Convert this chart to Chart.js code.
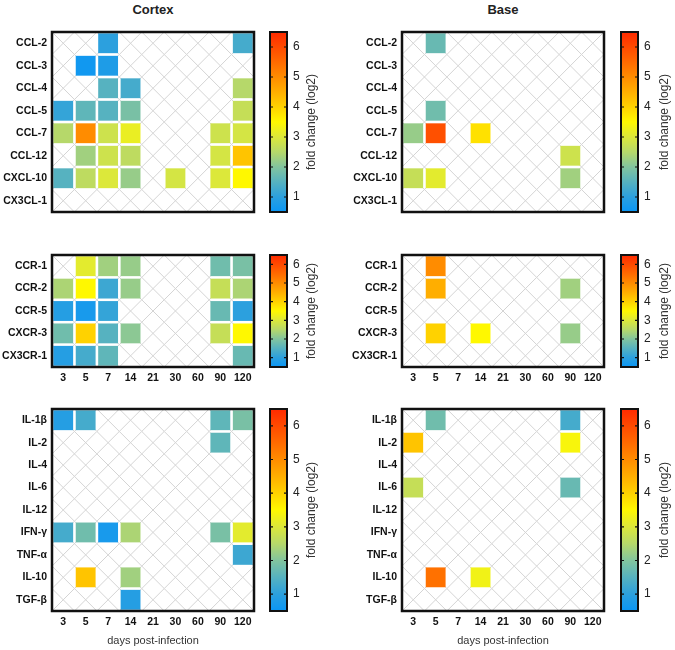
<!DOCTYPE html>
<html>
<head>
<meta charset="utf-8">
<script src="https://cdn.jsdelivr.net/npm/chart.js@4.4.1/dist/chart.umd.min.js"></script>
<style>
  body { margin: 0; background: #fff; width: 675px; height: 650px; position: relative; overflow: hidden; font-family: "Liberation Sans", Arial, sans-serif; }
  canvas { position: absolute; }
  .title { position: absolute; top: 2px; width: 202px; text-align: center; font-weight: bold; font-size: 13px; color: #222; }
</style>
</head>
<body>
<div class="title" style="left:52px">Cortex</div>
<div class="title" style="left:402px">Base</div>
<canvas id="cortex1"></canvas><canvas id="cortexBar1"></canvas>
<canvas id="base1"></canvas><canvas id="baseBar1"></canvas>
<canvas id="cortex2"></canvas><canvas id="cortexBar2"></canvas>
<canvas id="base2"></canvas><canvas id="baseBar2"></canvas>
<canvas id="cortex3"></canvas><canvas id="cortexBar3"></canvas>
<canvas id="base3"></canvas><canvas id="baseBar3"></canvas>
<script>
// days post-infection (columns)
const days = ["3", "5", "7", "14", "21", "30", "60", "90", "120"];

// rows
const chemokines = ["CCL-2", "CCL-3", "CCL-4", "CCL-5", "CCL-7", "CCL-12", "CXCL-10", "CX3CL-1"];
const receptors = ["CCR-1", "CCR-2", "CCR-5", "CXCR-3", "CX3CR-1"];
const cytokines = ["IL-1β", "IL-2", "IL-4", "IL-6", "IL-12", "IFN-γ", "TNF-α", "IL-10", "TGF-β"];

// fold change (log2), null = no change
const cortexChemokines = [
  [null, null, 1.0, null, null, null, null, null, 1.3],
  [null, 0.6, 0.8, null, null, null, null, null, null],
  [null, null, 1.5, 1.3, null, null, null, null, 2.5],
  [1.1, 1.6, 1.5, 1.9, null, null, null, null, 2.7],
  [2.5, 5.0, 2.8, 3.2, null, null, null, 2.8, 2.9],
  [null, 2.3, 2.8, 2.6, null, null, null, 2.9, 4.2],
  [1.5, 2.6, 3.0, 2.2, null, 2.9, null, 3.0, 3.5],
  [null, null, null, null, null, null, null, null, null]
];
const baseChemokines = [
  [null, 1.7, null, null, null, null, null, null, null],
  [null, null, null, null, null, null, null, null, null],
  [null, null, null, null, null, null, null, null, null],
  [null, 1.8, null, null, null, null, null, null, null],
  [2.2, 5.9, null, 3.8, null, null, null, null, null],
  [null, null, null, null, null, null, null, 2.8, null],
  [2.7, 3.1, null, null, null, null, null, 2.3, null],
  [null, null, null, null, null, null, null, null, null]
];
const cortexReceptors = [
  [null, 3.1, 2.3, 2.2, null, null, null, 1.8, 1.9],
  [2.4, 3.5, 1.2, 2.2, null, null, null, 2.7, 2.4],
  [0.9, 0.7, 1.1, null, null, null, null, 1.7, 1.0],
  [1.8, 4.0, 1.5, 2.1, null, null, null, 2.7, 3.5],
  [0.9, 1.3, 1.6, null, null, null, null, null, 1.7]
];
const baseReceptors = [
  [null, 5.0, null, null, null, null, null, null, null],
  [null, 4.5, null, null, null, null, null, 2.3, null],
  [null, null, null, null, null, null, null, null, null],
  [null, 4.0, null, 3.5, null, null, null, 2.2, null],
  [null, null, null, null, null, null, null, null, null]
];
const cortexCytokines = [
  [0.9, 1.3, null, null, null, null, null, 1.6, 1.9],
  [null, null, null, null, null, null, null, 1.6, null],
  [null, null, null, null, null, null, null, null, null],
  [null, null, null, null, null, null, null, null, null],
  [null, null, null, null, null, null, null, null, null],
  [1.3, 1.8, 0.7, 2.4, null, null, null, 1.9, 3.1],
  [null, null, null, null, null, null, null, null, 1.2],
  [null, 4.2, null, 2.3, null, null, null, null, null],
  [null, null, null, 0.9, null, null, null, null, null]
];
const baseCytokines = [
  [null, 1.8, null, null, null, null, null, 1.3, null],
  [4.2, null, null, null, null, null, null, 3.4, null],
  [null, null, null, null, null, null, null, null, null],
  [2.7, null, null, null, null, null, null, 1.7, null],
  [null, null, null, null, null, null, null, null, null],
  [null, null, null, null, null, null, null, null, null],
  [null, null, null, null, null, null, null, null, null],
  [null, 5.4, null, 3.3, null, null, null, null, null],
  [null, null, null, null, null, null, null, null, null]
];

// colour scale
const scaleMin = 0.5;
const scaleMax = 6.5;
const scaleTicks = [1, 2, 3, 4, 5, 6];
const stopValues = [0.5, 1, 1.5, 2, 2.5, 3, 3.5, 4, 4.5, 5, 5.5, 6, 6.5];
const stopColors = ["#0a96f5", "#2ca0de", "#56b2c0", "#82c49e", "#b6d86a", "#dce83a", "#fff800",
  "#ffd200", "#ffae00", "#ff8c00", "#ff6a00", "#ff4a00", "#ff2a00"];

const FONT = "'Liberation Sans', Arial, sans-serif";

function hexToRgb(h) {
  return [parseInt(h.slice(1, 3), 16), parseInt(h.slice(3, 5), 16), parseInt(h.slice(5, 7), 16)];
}
function colorFor(v) {
  if (v <= stopValues[0]) return stopColors[0];
  for (let i = 1; i < stopValues.length; i++) {
    if (v <= stopValues[i]) {
      const t = (v - stopValues[i - 1]) / (stopValues[i] - stopValues[i - 1]);
      const a = hexToRgb(stopColors[i - 1]), b = hexToRgb(stopColors[i]);
      const c = a.map((x, k) => Math.round(x + (b[k] - x) * t));
      return `rgb(${c[0]},${c[1]},${c[2]})`;
    }
  }
  return stopColors[stopColors.length - 1];
}

// light grey X in every cell + black frame
const crossPlugin = {
  id: "crossGrid",
  beforeDatasetsDraw(chart) {
    const { ctx, scales: { x, y } } = chart;
    const nRows = y.max - y.min;
    ctx.save();
    ctx.strokeStyle = "#d4d4d4";
    ctx.lineWidth = 1;
    ctx.beginPath();
    for (let i = 0; i < days.length; i++) {
      for (let j = 0; j < nRows; j++) {
        const x0 = x.getPixelForValue(i - 0.5), x1 = x.getPixelForValue(i + 0.5);
        const y0 = y.getPixelForValue(j - 0.5), y1 = y.getPixelForValue(j + 0.5);
        ctx.moveTo(x0, y0); ctx.lineTo(x1, y1);
        ctx.moveTo(x1, y0); ctx.lineTo(x0, y1);
      }
    }
    ctx.stroke();
    ctx.restore();
  },
  afterDatasetsDraw(chart) {
    const { ctx, chartArea: a } = chart;
    ctx.save();
    ctx.strokeStyle = "#111";
    ctx.lineWidth = 2.5;
    ctx.strokeRect(a.left, a.top, a.right - a.left, a.bottom - a.top);
    ctx.restore();
  }
};

function drawHeatmap(id, rows, values, left, plotTop, plotH, axisMode) {
  const canvas = document.getElementById(id);
  const xAxisH = axisMode === 0 ? 0 : (axisMode === 1 ? 22 : 39);
  const padBottom = axisMode === 2 ? 0 : 4;
  canvas.width = 262;
  canvas.height = 4 + plotH + xAxisH + padBottom;
  canvas.style.left = left + "px";
  canvas.style.top = (plotTop - 4) + "px";

  const points = [];
  values.forEach((row, r) => row.forEach((v, c) => {
    if (v !== null) points.push({ x: c, y: r, v: v });
  }));

  new Chart(canvas, {
    type: "scatter",
    data: {
      datasets: [{
        data: points,
        pointStyle: "rect",
        borderWidth: 0,
        backgroundColor: (ctx) => ctx.raw ? colorFor(ctx.raw.v) : "#fff",
        radius: (ctx) => {
          const x = ctx.chart.scales.x;
          const side = Math.abs(x.getPixelForValue(1) - x.getPixelForValue(0)) - 2.6;
          return side / Math.SQRT2;
        },
        hoverRadius: 0,
        hoverBorderWidth: 0
      }]
    },
    options: {
      responsive: false,
      animation: false,
      events: [],
      layout: { padding: { top: 4, right: 8, bottom: padBottom, left: 0 } },
      plugins: { legend: { display: false }, tooltip: { enabled: false } },
      scales: {
        x: {
          type: "linear",
          min: -0.5,
          max: days.length - 0.5,
          display: axisMode !== 0,
          afterBuildTicks: (s) => { s.ticks = days.map((d, i) => ({ value: i })); },
          afterFit: (s) => { s.height = xAxisH; s.paddingLeft = 0; s.paddingRight = 0; },
          grid: { display: false, drawTicks: false },
          border: { display: false },
          ticks: {
            autoSkip: false, maxRotation: 0, padding: 5, color: "#111",
            font: { family: FONT, size: 10.5, weight: "bold" },
            callback: (v) => days[v]
          },
          title: {
            display: axisMode === 2,
            text: "days post-infection",
            color: "#333",
            font: { family: FONT, size: 11 },
            padding: { top: 0, bottom: 2 }
          }
        },
        y: {
          type: "linear",
          reverse: true,
          min: -0.5,
          max: rows.length - 0.5,
          afterBuildTicks: (s) => { s.ticks = rows.map((d, i) => ({ value: i })); },
          afterFit: (s) => { s.width = 52; s.paddingTop = 0; s.paddingBottom = 0; },
          grid: { display: false, drawTicks: false },
          border: { display: false },
          ticks: {
            autoSkip: false, padding: 5, color: "#111",
            font: { family: FONT, size: 10.5, weight: "bold" },
            callback: (v) => rows[v]
          }
        }
      }
    },
    plugins: [crossPlugin]
  });
}

// colour bar: frame, inner tick marks, rotated title
const barPlugin = {
  id: "barFrame",
  afterDatasetsDraw(chart) {
    const { ctx, chartArea: a, scales: { y } } = chart;
    ctx.save();
    ctx.strokeStyle = "#111";
    ctx.lineWidth = 1.2;
    ctx.beginPath();
    scaleTicks.forEach((t) => {
      const py = y.getPixelForValue(t);
      ctx.moveTo(a.left, py); ctx.lineTo(a.left + 3, py);
      ctx.moveTo(a.right, py); ctx.lineTo(a.right - 3, py);
    });
    ctx.stroke();
    ctx.lineWidth = 2;
    ctx.strokeRect(a.left, a.top, a.right - a.left, a.bottom - a.top);
    ctx.restore();
  },
  afterDraw(chart) {
    const { ctx, chartArea: a } = chart;
    const tx = chart.options.plugins.barFrame.titleX;
    ctx.save();
    ctx.translate(tx, (a.top + a.bottom) / 2);
    ctx.rotate(-Math.PI / 2);
    ctx.textAlign = "center";
    ctx.textBaseline = "middle";
    ctx.fillStyle = "#333";
    ctx.font = "12px " + FONT;
    ctx.fillText("fold change (log2)", 0, 0);
    ctx.restore();
  }
};

function drawColorbar(id, left, plotTop, plotH, width, titleX) {
  const canvas = document.getElementById(id);
  canvas.width = width;
  canvas.height = plotH + 8;
  canvas.style.left = left + "px";
  canvas.style.top = (plotTop - 4) + "px";

  new Chart(canvas, {
    type: "bar",
    data: {
      labels: [""],
      datasets: [{
        data: [[scaleMin, scaleMax]],
        barPercentage: 1,
        categoryPercentage: 1,
        borderWidth: 0,
        backgroundColor: (ctx) => {
          const { chart } = ctx;
          if (!chart.chartArea) return stopColors[0];
          const y = chart.scales.y;
          const g = chart.ctx.createLinearGradient(0, y.getPixelForValue(scaleMin), 0, y.getPixelForValue(scaleMax));
          stopValues.forEach((v, i) => g.addColorStop((v - scaleMin) / (scaleMax - scaleMin), stopColors[i]));
          return g;
        }
      }]
    },
    options: {
      responsive: false,
      animation: false,
      events: [],
      layout: { padding: { top: 4, right: 0, bottom: 4, left: 4 } },
      plugins: { legend: { display: false }, tooltip: { enabled: false }, barFrame: { titleX: titleX } },
      scales: {
        x: { display: false },
        y: {
          position: "right",
          min: scaleMin,
          max: scaleMax,
          afterBuildTicks: (s) => { s.ticks = scaleTicks.map((t) => ({ value: t })); },
          afterFit: (s) => { s.width = width - 4 - 17; s.paddingTop = 0; s.paddingBottom = 0; },
          grid: { display: false, drawTicks: false },
          border: { display: false },
          ticks: { padding: 6, color: "#222", font: { family: FONT, size: 12 } }
        }
      }
    },
    plugins: [barPlugin]
  });
}

drawHeatmap("cortex1", chemokines, cortexChemokines, 0, 32, 180, 0);
drawHeatmap("base1", chemokines, baseChemokines, 350, 32, 180, 0);
drawHeatmap("cortex2", receptors, cortexReceptors, 0, 255, 112, 1);
drawHeatmap("base2", receptors, baseReceptors, 350, 255, 112, 1);
drawHeatmap("cortex3", cytokines, cortexCytokines, 0, 409, 202, 2);
drawHeatmap("base3", cytokines, baseCytokines, 350, 409, 202, 2);

drawColorbar("cortexBar1", 266, 32, 180, 62, 46);
drawColorbar("baseBar1", 617, 32, 180, 58, 48);
drawColorbar("cortexBar2", 266, 255, 112, 62, 46);
drawColorbar("baseBar2", 617, 255, 112, 58, 48);
drawColorbar("cortexBar3", 266, 409, 202, 62, 46);
drawColorbar("baseBar3", 617, 409, 202, 58, 48);
</script>
</body>
</html>
